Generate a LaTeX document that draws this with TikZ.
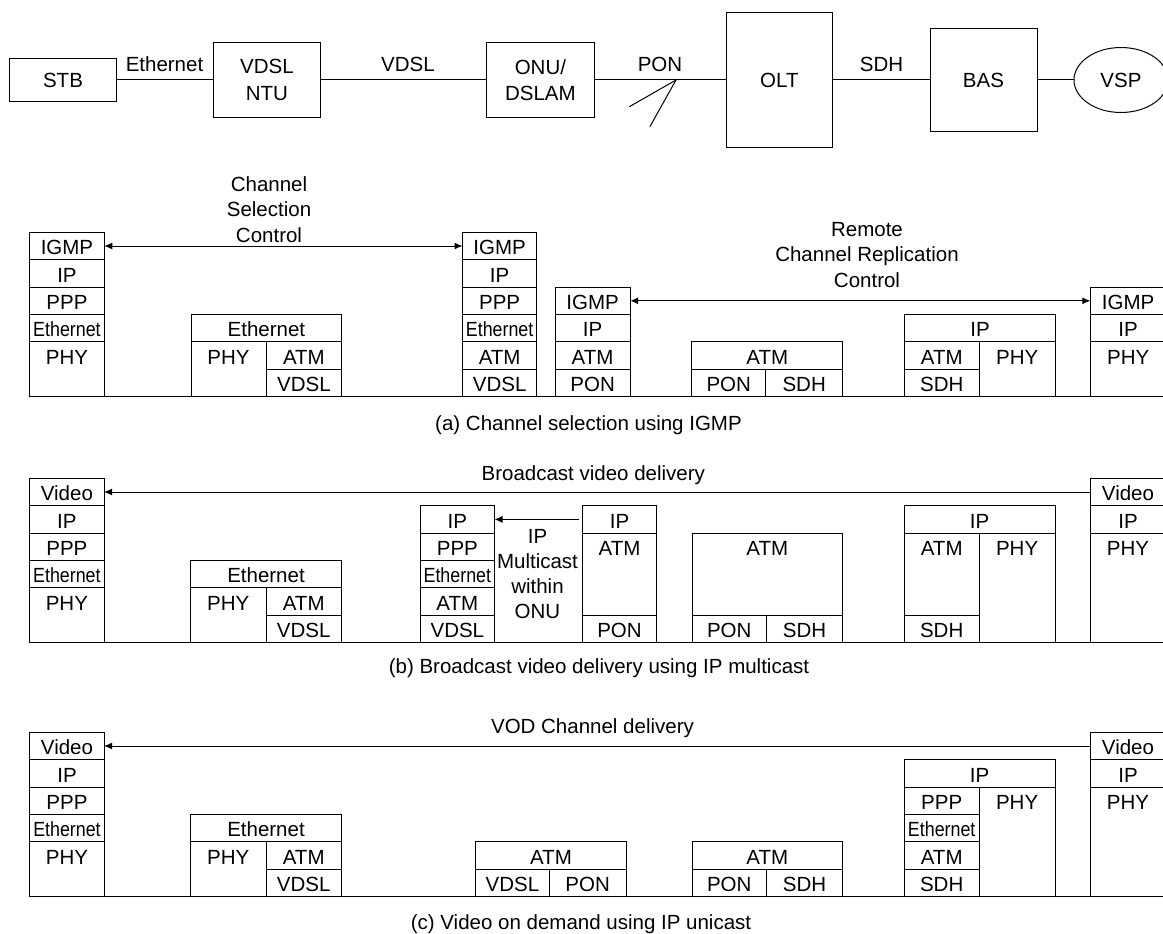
\documentclass[tikz,border=0pt]{standalone}
\usepackage{fontspec}
\setmainfont{Liberation Sans}
\usepackage{graphicx}
\usetikzlibrary{arrows.meta,shapes.geometric}
\newcommand\eth{\scalebox{0.87}[1]{Ethernet}}
\newcommand\mkcell[6]{%
  \node[cellbox, minimum width={#4pt-#2pt}, minimum height={#5pt-#3pt}] (#1) at (#2,#3) {};
  \node[lab] (#1-t) at ([yshift=-22.3pt]#1.north) {#6};
}
\tikzset{
  box/.style={draw, line width=1pt, inner sep=0pt, outer sep=0pt},
  cellbox/.style={draw, line width=1pt, inner sep=0pt, outer sep=0pt, anchor=north west, rectangle},
  lab/.style={anchor=base, inner sep=0pt, outer sep=0pt},
  arrl/.style={-{Latex[length=8pt,width=7pt]}, line width=1pt},
  arrb/.style={{Latex[length=8pt,width=7pt]}-{Latex[length=8pt,width=7pt]}, line width=1pt},
  wire/.style={line width=1pt},
}
\begin{document}
\begin{tikzpicture}[x=1pt,y=-1pt,font=\fontsize{20.5}{26.5}\selectfont]
\useasboundingbox (0,0) rectangle (1163,934);
\clip (0,0) rectangle (1163,934);
% ---------------- top row ----------------
\node[box, minimum width=106.7, minimum height=43] (stb) at (63,80) {STB};
\node[box, minimum width=106.8, minimum height=75.3, align=center] (ntu) at (266.9,80) {VDSL\\NTU};
\node[box, minimum width=107.2, minimum height=75.3, align=center] (onu) at (540.4,80) {ONU/\\DSLAM};
\node[box, minimum width=105.2, minimum height=135.8] (olt) at (779.4,80) {OLT};
\node[box, minimum width=107, minimum height=103] (bas) at (983.5,80) {BAS};
\node[box, ellipse, minimum width=94, minimum height=65] (vsp) at (1121,80) {VSP};
\draw[wire] (stb) -- (ntu);
\draw[wire] (ntu) -- (onu);
\draw[wire] (onu) -- (olt);
\draw[wire] (olt) -- (bas);
\draw[wire] (bas) -- (vsp);
\coordinate (sp) at (676,80);
\coordinate (sp1) at (629.4,106.7);
\coordinate (sp2) at (649.9,126.7);
\draw[wire] (sp) -- (sp1);
\draw[wire] (sp) -- (sp2);
\node[lab] (lEth) at (164.5,72) {Ethernet};
\node[lab] (lVdsl) at (408,72) {VDSL};
\node[lab] (lPon) at (660,72) {PON};
\node[lab] (lSdh) at (881.5,72) {SDH};
% ---------------- (a) ----------------
\node[lab] (aT1) at (269,191.7) {Channel};
\node[lab] (aT2) at (269,216.7) {Selection};
\node[lab] (aT3) at (269,242.7) {Control};
\node[lab] (aR1) at (867,236) {Remote};
\node[lab] (aR2) at (867,261.7) {Channel Replication};
\node[lab] (aR3) at (867,287.3) {Control};
\mkcell{aL1}{29.6}{232.3}{104.3}{259.7}{IGMP}
\mkcell{aL2}{29.6}{259.7}{104.3}{287.1}{IP}
\mkcell{aL3}{29.6}{287.1}{104.3}{314.5}{PPP}
\mkcell{aL4}{29.6}{314.5}{104.3}{341.9}{\eth}
\mkcell{aL5}{29.6}{341.9}{104.3}{396.7}{PHY}
\mkcell{aN1}{191}{314.5}{341.8}{341.9}{Ethernet}
\mkcell{aN2}{191}{341.9}{266}{396.7}{PHY}
\mkcell{aN3}{266}{341.9}{341.8}{369.3}{ATM}
\mkcell{aN4}{266}{369.3}{341.8}{396.7}{VDSL}
\mkcell{aO1}{462.5}{232.3}{536.8}{259.7}{IGMP}
\mkcell{aO2}{462.5}{259.7}{536.8}{287.1}{IP}
\mkcell{aO3}{462.5}{287.1}{536.8}{314.5}{PPP}
\mkcell{aO4}{462.5}{314.5}{536.8}{341.9}{\eth}
\mkcell{aO5}{462.5}{341.9}{536.8}{369.3}{ATM}
\mkcell{aO6}{462.5}{369.3}{536.8}{396.7}{VDSL}
\mkcell{aT1c}{555}{287.1}{630.2}{314.5}{IGMP}
\mkcell{aT2c}{555}{314.5}{630.2}{341.9}{IP}
\mkcell{aT3c}{555}{341.9}{630.2}{369.3}{ATM}
\mkcell{aT4c}{555}{369.3}{630.2}{396.7}{PON}
\mkcell{aX1}{691.8}{341.9}{842.7}{369.3}{ATM}
\mkcell{aX2}{691.8}{369.3}{765.7}{396.7}{PON}
\mkcell{aX3}{765.7}{369.3}{842.7}{396.7}{SDH}
\mkcell{aB1}{904.7}{314.5}{1055.3}{341.9}{IP}
\mkcell{aB2}{904.7}{341.9}{979}{369.3}{ATM}
\mkcell{aB3}{904.7}{369.3}{979}{396.7}{SDH}
\mkcell{aB4}{979}{341.9}{1055.3}{396.7}{PHY}
\mkcell{aV1}{1090.3}{287.1}{1166}{314.5}{IGMP}
\mkcell{aV2}{1090.3}{314.5}{1166}{341.9}{IP}
\mkcell{aV3}{1090.3}{341.9}{1166}{396.7}{PHY}
\draw[arrb] (aL1.east) -- (aO1.west);
\draw[arrb] (aT1c.east) -- (aV1.west);
\coordinate (aBa) at (29.6,396.7);
\coordinate (aBb) at (1170,396.7);
\draw[wire] (aBa) -- (aBb);
\node[lab] (capA) at (588.5,430) {(a) Channel selection using IGMP};
% ---------------- (b) ----------------
\node[lab] (bTitle) at (593.3,480.7) {Broadcast video delivery};
\mkcell{bL1}{29.8}{478.3}{104}{505.7}{Video}
\mkcell{bL2}{29.8}{505.7}{104}{533.1}{IP}
\mkcell{bL3}{29.8}{533.1}{104}{560.5}{PPP}
\mkcell{bL4}{29.8}{560.5}{104}{587.9}{\eth}
\mkcell{bL5}{29.8}{587.9}{104}{642.7}{PHY}
\mkcell{bN1}{190.6}{560.5}{341.4}{587.9}{Ethernet}
\mkcell{bN2}{190.6}{587.9}{266}{642.7}{PHY}
\mkcell{bN3}{266}{587.9}{341.4}{615.3}{ATM}
\mkcell{bN4}{266}{615.3}{341.4}{642.7}{VDSL}
\mkcell{bO1}{420.2}{505.7}{494.5}{533.1}{IP}
\mkcell{bO2}{420.2}{533.1}{494.5}{560.5}{PPP}
\mkcell{bO3}{420.2}{560.5}{494.5}{587.9}{\eth}
\mkcell{bO4}{420.2}{587.9}{494.5}{615.3}{ATM}
\mkcell{bO5}{420.2}{615.3}{494.5}{642.7}{VDSL}
\node[lab] (bM1) at (537.5,543.5) {IP};
\node[lab] (bM2) at (537.5,568.5) {Multicast};
\node[lab] (bM3) at (537.5,593.5) {within};
\node[lab] (bM4) at (537.5,618.5) {ONU};
\mkcell{bT1}{582.5}{505.7}{656.5}{533.1}{IP}
\mkcell{bT2}{582.5}{533.1}{656.5}{615.3}{ATM}
\mkcell{bT3}{582.5}{615.3}{656.5}{642.7}{PON}
\mkcell{bX1}{692}{533.1}{842.7}{615.3}{ATM}
\mkcell{bX2}{692}{615.3}{766.5}{642.7}{PON}
\mkcell{bX3}{766.5}{615.3}{842.7}{642.7}{SDH}
\mkcell{bB1}{904.2}{505.7}{1055}{533.1}{IP}
\mkcell{bB2}{904.2}{533.1}{979.2}{615.3}{ATM}
\mkcell{bB3}{904.2}{615.3}{979.2}{642.7}{SDH}
\mkcell{bB4}{979.2}{533.1}{1055}{642.7}{PHY}
\mkcell{bV1}{1090}{478.3}{1166}{505.7}{Video}
\mkcell{bV2}{1090}{505.7}{1166}{533.1}{IP}
\mkcell{bV3}{1090}{533.1}{1166}{642.7}{PHY}
\draw[arrl] (bV1.west) -- (bL1.east);
\draw[arrl, shorten <=4pt] (bT1.west) -- (bO1.east);
\coordinate (bBa) at (29.8,642.7);
\coordinate (bBb) at (1170,642.7);
\draw[wire] (bBa) -- (bBb);
\node[lab] (capB) at (599,673) {(b) Broadcast video delivery using IP multicast};
% ---------------- (c) ----------------
\node[lab] (cTitle) at (592.5,733.3) {VOD Channel delivery};
\mkcell{cL1}{29.9}{732.3}{104.1}{759.7}{Video}
\mkcell{cL2}{29.9}{759.7}{104.1}{787.1}{IP}
\mkcell{cL3}{29.9}{787.1}{104.1}{814.5}{PPP}
\mkcell{cL4}{29.9}{814.5}{104.1}{841.9}{\eth}
\mkcell{cL5}{29.9}{841.9}{104.1}{896.7}{PHY}
\mkcell{cN1}{190.6}{814.5}{341.4}{841.9}{Ethernet}
\mkcell{cN2}{190.6}{841.9}{266}{896.7}{PHY}
\mkcell{cN3}{266}{841.9}{341.4}{869.3}{ATM}
\mkcell{cN4}{266}{869.3}{341.4}{896.7}{VDSL}
\mkcell{cO1}{475.7}{841.9}{626.2}{869.3}{ATM}
\mkcell{cO2}{475.7}{869.3}{549.2}{896.7}{VDSL}
\mkcell{cO3}{549.2}{869.3}{626.2}{896.7}{PON}
\mkcell{cX1}{692}{841.9}{842.7}{869.3}{ATM}
\mkcell{cX2}{692}{869.3}{766.5}{896.7}{PON}
\mkcell{cX3}{766.5}{869.3}{842.7}{896.7}{SDH}
\mkcell{cB1}{904.2}{759.7}{1055}{787.1}{IP}
\mkcell{cB2}{904.2}{787.1}{979.2}{814.5}{PPP}
\mkcell{cB3}{904.2}{814.5}{979.2}{841.9}{\eth}
\mkcell{cB4}{904.2}{841.9}{979.2}{869.3}{ATM}
\mkcell{cB5}{904.2}{869.3}{979.2}{896.7}{SDH}
\mkcell{cB6}{979.2}{787.1}{1055}{896.7}{PHY}
\mkcell{cV1}{1090}{732.3}{1166}{759.7}{Video}
\mkcell{cV2}{1090}{759.7}{1166}{787.1}{IP}
\mkcell{cV3}{1090}{787.1}{1166}{896.7}{PHY}
\draw[arrl] (cV1.west) -- (cL1.east);
\coordinate (cBa) at (29.9,896.7);
\coordinate (cBb) at (1170,896.7);
\draw[wire] (cBa) -- (cBb);
\node[lab] (capC) at (581,929) {(c) Video on demand using IP unicast};
\end{tikzpicture}
\end{document}
